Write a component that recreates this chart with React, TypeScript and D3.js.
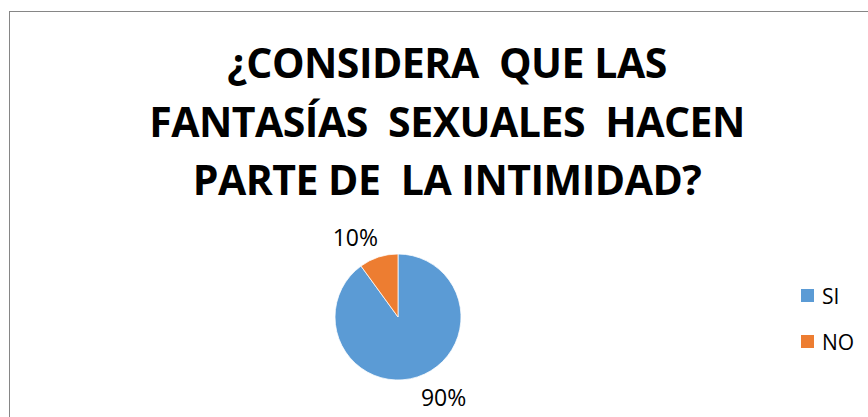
import React, { useEffect, useRef } from "react";
import * as d3 from "d3";

const WIDTH = 868;
const HEIGHT = 417;
const FONT = "'Open Sans', Lato, sans-serif";

const titleLines = ["¿CONSIDERA  QUE LAS", "FANTASÍAS  SEXUALES  HACEN", "PARTE DE  LA INTIMIDAD?"];
const categories = ["SI", "NO"];
const values = [90, 10];
const COLORS = ["#5B9BD5", "#ED7D31"];

export default function App() {
  const ref = useRef<SVGSVGElement>(null);

  useEffect(() => {
    if (!ref.current) return;
    const svg = d3.select(ref.current);
    svg.selectAll("*").remove();

    svg.append("rect").attr("width", WIDTH).attr("height", HEIGHT).attr("fill", "#fff");

    // chart area border (runs off the right and bottom edges)
    svg
      .append("rect")
      .attr("x", 9.5)
      .attr("y", 11.5)
      .attr("width", 1000)
      .attr("height", 600)
      .attr("fill", "none")
      .attr("stroke", "#868686");

    svg
      .append("g")
      .selectAll("text")
      .data(titleLines)
      .enter()
      .append("text")
      .attr("x", 447)
      .attr("y", (_, i) => 78 + i * 58.5)
      .attr("text-anchor", "middle")
      .attr("font-family", FONT)
      .attr("font-weight", 700)
      .attr("font-size", 41)
      .attr("letter-spacing", -0.5)
      .attr("fill", "#000")
      .style("white-space", "pre")
      .text((d) => d);

    const cx = 398;
    const cy = 317;
    const radius = 63;

    const pie = d3
      .pie<number>()
      .sort(null)
      .value((d) => d);
    const arcs = pie(values);
    const arc = d3.arc<d3.PieArcDatum<number>>().innerRadius(0).outerRadius(radius);

    const g = svg.append("g").attr("transform", `translate(${cx},${cy})`);
    g.selectAll("path")
      .data(arcs)
      .enter()
      .append("path")
      .attr("d", arc)
      .attr("fill", (_, i) => COLORS[i])
      .attr("stroke", "#fff")
      .attr("stroke-width", 0.75);

    const total = d3.sum(values);
    const labelR = 84;
    g.selectAll("text")
      .data(arcs)
      .enter()
      .append("text")
      .each(function (d) {
        const a = (d.startAngle + d.endAngle) / 2;
        const x = Math.sin(a) * labelR;
        const y = -Math.cos(a) * labelR;
        d3.select(this)
          .attr("x", x < 0 ? x + 6 : x - 3)
          .attr("y", y)
          .attr("text-anchor", x < 0 ? "end" : "start");
      })
      .attr("dominant-baseline", "central")
      .attr("font-family", FONT)
      .attr("font-size", 23)
      .attr("fill", "#000")
      .text((d) => `${Math.round((d.value / total) * 100)}%`);

    const legend = svg
      .append("g")
      .selectAll("g")
      .data(categories)
      .enter()
      .append("g")
      .attr("transform", (_, i) => `translate(801,${289 + i * 46})`);
    legend
      .append("rect")
      .attr("width", 13)
      .attr("height", 13)
      .attr("fill", (_, i) => COLORS[i]);
    legend
      .append("text")
      .attr("x", 21)
      .attr("y", 7)
      .attr("dominant-baseline", "central")
      .attr("font-family", FONT)
      .attr("font-size", 21)
      .attr("fill", "#000")
      .text((d) => d);
  }, []);

  return (
    <svg
      ref={ref}
      width={WIDTH}
      height={HEIGHT}
      style={{ position: "absolute", left: 0, top: 0, display: "block" }}
    />
  );
}
